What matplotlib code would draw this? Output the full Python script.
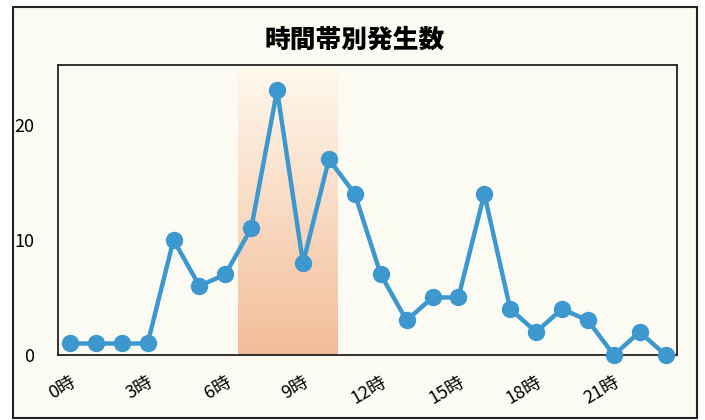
# 時間帯別発生数 chart
import matplotlib.pyplot as plt
from matplotlib.patches import Rectangle
import numpy as np

HOURS = list(range(24))
COUNTS = [1, 1, 1, 1, 10, 6, 7, 11, 23, 8, 17, 14, 7, 3, 5, 5, 14, 4, 2, 4, 3, 0, 2, 0]
X_TICKS = [0, 3, 6, 9, 12, 15, 18, 21]
X_TICK_LABELS = [f"{h}時" for h in X_TICKS]
Y_TICKS = [0, 10, 20]
BAND = (6.5, 10.35)
TITLE = "時間帯別発生数"

LINE_COLOR = "#3c98ce"
BG_COLOR = "#fbfbf4"

plt.rcParams["font.family"] = ["Noto Sans CJK JP", "DejaVu Sans"]

fig = plt.figure(figsize=(7.05, 4.2), dpi=100)
fig.patch.set_facecolor("white")
# outer frame, kept below the axes
fig.patches.append(Rectangle((13 / 705, 2 / 420), 684 / 705, 411 / 420, transform=fig.transFigure,
                             facecolor=BG_COLOR, edgecolor="#222222", linewidth=1.5, zorder=-1))

ax = fig.add_axes([58 / 705, 65 / 420, 619 / 705, 290 / 420])
ax.set_zorder(1)
ax.set_facecolor(BG_COLOR)
ax.set_xlim(-0.46, 23.44)
ax.set_ylim(0, 25.2)

# gradient band (near white at top, salmon at bottom)
grad = np.linspace(0, 1, 256).reshape(-1, 1)
top = np.array([0.998, 0.975, 0.93])
bot = np.array([0.955, 0.74, 0.60])
img = top + (bot - top) * grad[..., None]
ax.imshow(img[::-1], extent=(BAND[0], BAND[1], 0, 25.2), aspect="auto", origin="lower", zorder=1)

ax.plot(HOURS, COUNTS, color=LINE_COLOR, linewidth=3.2, marker="o", markersize=11.5,
        markerfacecolor=LINE_COLOR, markeredgecolor=LINE_COLOR, clip_on=False, zorder=3)

ax.set_xticks(X_TICKS)
ax.set_xticklabels(X_TICK_LABELS, rotation=30, ha="right", rotation_mode="anchor", fontsize=13)
ax.set_yticks(Y_TICKS)
ax.set_yticklabels([str(v) for v in Y_TICKS], fontsize=13)
ax.tick_params(axis="x", length=0, pad=13)
ax.tick_params(axis="y", length=0, pad=17)
for s in ax.spines.values():
    s.set_color("#222222")
    s.set_linewidth(1.3)

fig.text(355 / 705, 1 - 40 / 420, TITLE, ha="center", va="center", fontsize=18.5, fontweight="black")

fig.savefig("out.png", dpi=100, facecolor="white")
